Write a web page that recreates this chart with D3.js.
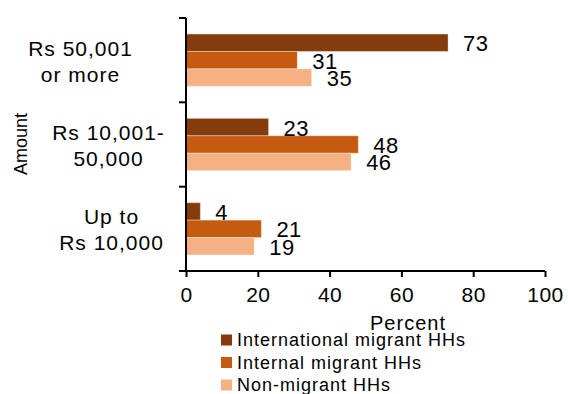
<!DOCTYPE html>
<html>
<head>
<meta charset="utf-8">
<script src="https://cdn.jsdelivr.net/npm/d3@7"></script>
<style>
  html, body { margin: 0; padding: 0; background: #fff; }
  svg { display: block; font-family: "Liberation Sans", Arial, sans-serif; }
</style>
</head>
<body>
<svg id="chart" width="568" height="394"></svg>
<script>
// Share of households by amount received (percent)
const categories = [["Rs 50,001", "or more"], ["Rs 10,001-", "50,000"], ["Up to", "Rs 10,000"]];
const seriesNames = ["International migrant HHs", "Internal migrant HHs", "Non-migrant HHs"];
const international = [73, 23, 4];
const internal = [31, 48, 21];
const nonMigrant = [35, 46, 19];
const xTicks = [0, 20, 40, 60, 80, 100];
const colors = ["#843C0C", "#C55A11", "#F4B183"];

// Horizontal centre of each wrapped category label
const labelCenters = [80, 108, 111];

const series = [international, internal, nonMigrant];
const svg = d3.select("#chart");

const x = d3.scaleLinear().domain([0, 100]).range([186, 545]);
const y = d3.scaleBand().domain(d3.range(categories.length)).range([18, 271]).paddingInner(0.38).paddingOuter(0.19);
const ySub = d3.scaleBand().domain(d3.range(series.length)).range([0, y.bandwidth()]);

// Bars
series.forEach((vals, s) => {
  svg.append("g").selectAll("rect")
    .data(vals)
    .join("rect")
    .attr("x", x(0))
    .attr("y", (d, i) => y(i) + ySub(s))
    .attr("width", d => x(d) - x(0))
    .attr("height", ySub.bandwidth())
    .attr("fill", colors[s])
    .attr("stroke", "rgba(255,255,255,0.35)")
    .attr("stroke-width", 1);
});

// Value labels
series.forEach((vals, s) => {
  svg.append("g").selectAll("text")
    .data(vals)
    .join("text")
    .attr("x", d => x(d) + 15)
    .attr("y", (d, i) => y(i) + ySub(s) + ySub.bandwidth() / 2 + 1)
    .attr("dominant-baseline", "central")
    .attr("font-size", 22)
    .attr("letter-spacing", 0.5)
    .attr("fill", "#000")
    .text(d => d);
});

// Y axis: line with ticks at band boundaries
const yBounds = [18, 102.3, 186.7, 271];
svg.append("line").attr("x1", 186).attr("x2", 186).attr("y1", 18).attr("y2", 271)
  .attr("stroke", "#000").attr("stroke-width", 2);
svg.append("g").selectAll("line").data(yBounds).join("line")
  .attr("x1", 179).attr("x2", 186).attr("y1", d => d).attr("y2", d => d)
  .attr("stroke", "#000").attr("stroke-width", 2);

// X axis
const xAxis = svg.append("g").attr("transform", "translate(0,271)")
  .call(d3.axisBottom(x).tickValues(xTicks).tickSize(6).tickPadding(10).tickSizeOuter(0));
xAxis.select(".domain").attr("stroke", "#000").attr("stroke-width", 2).attr("d", "M179,0H545");
xAxis.selectAll(".tick line").attr("stroke", "#000").attr("stroke-width", 2);
xAxis.selectAll(".tick text").attr("font-size", 21).attr("fill", "#000")
  .attr("letter-spacing", 0.5)
  .attr("font-family", "Liberation Sans, Arial, sans-serif");

// Category labels
categories.forEach((lines, i) => {
  const cy = y(i) + y.bandwidth() / 2;
  const t = svg.append("text").attr("text-anchor", "middle").attr("font-size", 21)
    .attr("letter-spacing", 1).attr("fill", "#000");
  lines.forEach((ln, k) => {
    t.append("tspan").attr("x", labelCenters[i] + 0.5).attr("y", cy - 12 + k * 26)
      .attr("dominant-baseline", "central").text(ln);
  });
});

// Axis titles
svg.append("text").attr("transform", "translate(21,144) rotate(-90)")
  .attr("text-anchor", "middle").attr("dominant-baseline", "central")
  .attr("font-size", 18).attr("fill", "#000").text("Amount");
svg.append("text").attr("x", 408).attr("y", 323)
  .attr("text-anchor", "middle").attr("dominant-baseline", "central")
  .attr("font-size", 20).attr("letter-spacing", 1).attr("fill", "#000").text("Percent");

// Legend
const legend = svg.append("g").selectAll("g").data(seriesNames).join("g")
  .attr("transform", (d, i) => `translate(221,${340 + i * 22.5})`);
legend.append("rect").attr("x", 0).attr("y", -5.5).attr("width", 11).attr("height", 11)
  .attr("fill", (d, i) => colors[i]);
legend.append("text").attr("x", 16).attr("y", 0).attr("dominant-baseline", "central")
  .attr("font-size", 18).attr("letter-spacing", 1).attr("fill", "#000").text(d => d);
</script>
</body>
</html>
